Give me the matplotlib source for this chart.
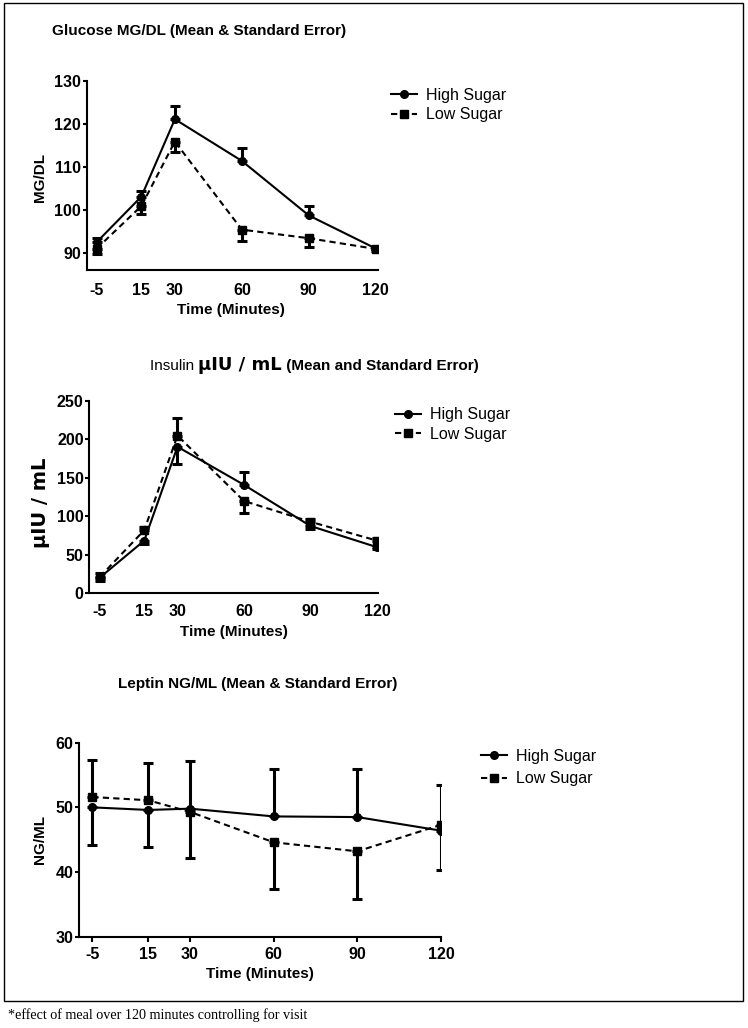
import matplotlib
matplotlib.use('Agg')
import matplotlib.pyplot as plt
from matplotlib.patches import Rectangle

plt.rcParams['font.family'] = ['Liberation Sans', 'DejaVu Sans']

# time points (minutes)
times = [-5, 15, 30, 60, 90, 120]
time_labels = ['-5', '15', '30', '60', '90', '120']

# glucose MG/DL
glucose_high = [92.5, 103.1, 121.1, 111.4, 98.7, 91.0]
glucose_high_se = [1.0, 1.4, 3.1, 3.1, 2.1, 0.5]
glucose_low = [91.0, 100.9, 115.9, 95.4, 93.4, 90.9]
glucose_low_se = [1.2, 1.9, 2.5, 2.6, 2.0, 0.5]

# insulin uIU/mL
insulin_high = [20.5, 68.5, 190.5, 141.0, 87.5, 60.0]
insulin_high_se = [5.0, 4.5, 22.6, 17.2, 3.5, 2.5]
insulin_low = [21.5, 82.0, 205.0, 120.0, 93.0, 68.5]
insulin_low_se = [5.0, 4.8, 22.5, 15.0, 4.0, 3.0]

# leptin NG/ML
leptin_high = [50.0, 49.6, 49.8, 48.6, 48.5, 46.4]
leptin_high_se = [5.8, 5.7, 7.3, 7.3, 7.4, 6.1]
leptin_low = [51.6, 51.1, 49.3, 44.6, 43.2, 47.3]
leptin_low_se = [5.7, 5.8, 7.2, 7.3, 7.4, 6.2]

W, H = 748, 1028
fig = plt.figure(figsize=(W / 100, H / 100), dpi=100)


def px_axes(left, top, right, bottom):
    return fig.add_axes([left / W, 1 - bottom / H, (right - left) / W, (bottom - top) / H])


def one_sided(vals, other, se):
    # upper series gets the bar above, lower series the bar below
    lo, up = [], []
    for v, o, s in zip(vals, other, se):
        if v >= o:
            lo.append(0)
            up.append(s)
        else:
            lo.append(s)
            up.append(0)
    return [lo, up]


def panel(ax, high, high_se, low, low_se, xlim, ylim, yticks, xtick_len, xtick_pad):
    ax.errorbar(times, high, yerr=one_sided(high, low, high_se), fmt='none',
                ecolor='black', elinewidth=2.2, capsize=3.5, capthick=2.2)
    ax.errorbar(times, low, yerr=one_sided(low, high, low_se), fmt='none',
                ecolor='black', elinewidth=2.2, capsize=3.5, capthick=2.2)
    ax.plot(times, high, '-', color='black', lw=1.5, marker='o', ms=5.5, label='High Sugar')
    ax.plot(times, low, color='black', lw=1.5, ls=(0, (3, 2)), marker='s', ms=5.5,
            label='Low Sugar')
    ax.set_xlim(*xlim)
    ax.set_ylim(*ylim)
    ax.set_xticks(times)
    ax.set_xticklabels(time_labels)
    ax.set_yticks(yticks)
    for s in ['top', 'right']:
        ax.spines[s].set_visible(False)
    for s in ['left', 'bottom']:
        ax.spines[s].set_linewidth(1.5)
    ax.tick_params(axis='y', length=3, width=1.5, pad=1, labelsize=11.5)
    ax.tick_params(axis='x', length=xtick_len, width=1.5, pad=xtick_pad, labelsize=11.5)
    for lab in ax.get_xticklabels() + ax.get_yticklabels():
        lab.set_fontweight('bold')


def add_legend(ax, x, y, spacing):
    ax.legend(loc='center left', bbox_to_anchor=(x / W, 1 - y / H),
              bbox_transform=fig.transFigure, frameon=False, fontsize=11.5,
              handlelength=1.6, handletextpad=0.6, labelspacing=spacing,
              borderpad=0, borderaxespad=0)


# ---- glucose ----
ax1 = px_axes(86.7, 81, 378, 270)
panel(ax1, glucose_high, glucose_high_se, glucose_low, glucose_low_se,
      (-9.5, 121), (86, 130), [90, 100, 110, 120, 130], 0, 9.5)
add_legend(ax1, 391, 105, 0.3)
fig.text(52 / W, 1 - 31 / H, 'Glucose MG/DL (Mean & Standard Error)',
         fontsize=11, fontweight='bold', va='center')
fig.text(40 / W, 1 - 177 / H, 'MG/DL', rotation=90, fontsize=11,
         fontweight='bold', ha='center', va='center')
fig.text(231 / W, 1 - 310 / H, 'Time (Minutes)', fontsize=11,
         fontweight='bold', ha='center', va='center')

# ---- insulin ----
ax2 = px_axes(89.3, 401, 378, 593.3)
panel(ax2, insulin_high, insulin_high_se, insulin_low, insulin_low_se,
      (-9.8, 120.5), (0, 250), [0, 50, 100, 150, 200, 250], 0, 7.5)
add_legend(ax2, 395, 424.5, 0.3)
t1 = fig.text(150 / W, 1 - 373 / H, 'Insulin ', fontsize=11, va='bottom')
t2 = fig.text(0, 0, '\u00b5IU / mL', fontsize=13, fontweight='bold',
              family=['DejaVu Sans'], va='bottom')
t3 = fig.text(0, 0, ' (Mean and Standard Error)', fontsize=11,
              fontweight='bold', va='bottom')
fig.canvas.draw()
r = fig.canvas.get_renderer()
bb1 = t1.get_window_extent(r)
t2.set_position((bb1.x1 / W, bb1.y0 / H - 1.5 / H))
fig.canvas.draw()
bb2 = t2.get_window_extent(r)
t3.set_position((bb2.x1 / W, bb1.y0 / H))
fig.text(40 / W, 1 - 503 / H, '\u00b5IU / mL', rotation=90, fontsize=14,
         fontweight='bold', family=['DejaVu Sans'],
         ha='center', va='center')
fig.text(234 / W, 1 - 632 / H, 'Time (Minutes)', fontsize=11,
         fontweight='bold', ha='center', va='center')

# ---- leptin ----
ax3 = px_axes(79.3, 742.7, 441, 936.7)
panel(ax3, leptin_high, leptin_high_se, leptin_low, leptin_low_se,
      (-9.7, 120), (30, 60), [30, 40, 50, 60], 3.5, 4)
add_legend(ax3, 481, 767.5, 0.45)
fig.text(118 / W, 1 - 684 / H, 'Leptin NG/ML (Mean & Standard Error)',
         fontsize=11, fontweight='bold', va='center')
fig.text(40 / W, 1 - 840 / H, 'NG/ML', rotation=90, fontsize=11,
         fontweight='bold', ha='center', va='center')
fig.text(260 / W, 1 - 974 / H, 'Time (Minutes)', fontsize=11,
         fontweight='bold', ha='center', va='center')

# frame and footnote
fig.patches.append(Rectangle((4 / W, 1 - 1001 / H), 739 / W, 998 / H,
                             transform=fig.transFigure, fill=False,
                             edgecolor='black', lw=1))
fig.text(8 / W, 1 - 1015 / H, '*effect of meal over 120 minutes controlling for visit',
         family='Liberation Serif', fontsize=10.2, va='center')

fig.savefig('out.png', dpi=100)
